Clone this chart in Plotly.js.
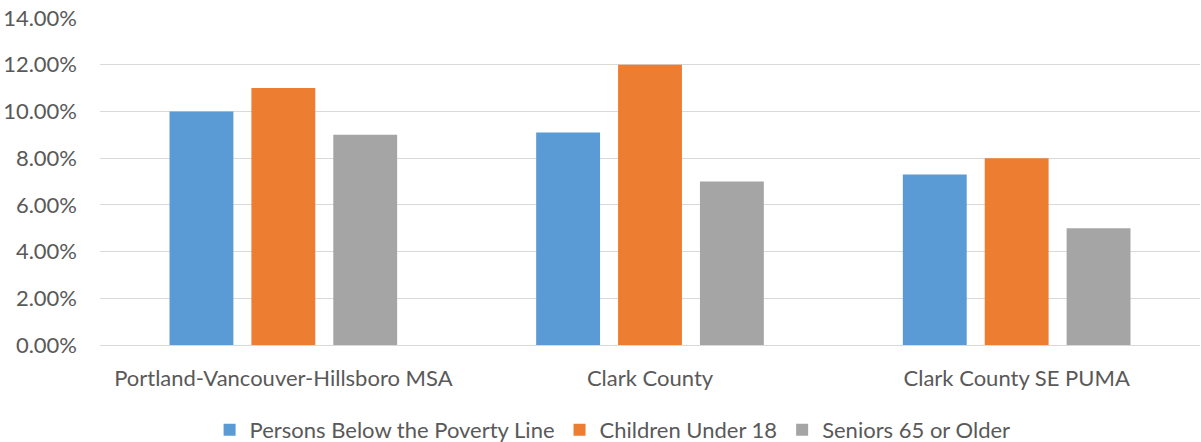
<!DOCTYPE html>
<html>
<head>
<meta charset="utf-8">
<script src="https://cdn.plot.ly/plotly-3.0.1.min.js"></script>
<style>
  html, body { margin: 0; padding: 0; background: #fff; }
  #chart { width: 1201px; height: 442px; }
</style>
</head>
<body>
<div id="chart"></div>
<script>
// Poverty rates by area (percent)
const areas = ["Portland-Vancouver-Hillsboro MSA", "Clark County", "Clark County SE PUMA"];
const personsBelowPoverty = [10.0, 9.1, 7.3];
const childrenUnder18 = [11.0, 12.0, 8.0];
const seniors65Plus = [9.0, 7.0, 5.0];
const seriesNames = ["Persons Below the Poverty Line", "Children Under 18", "Seniors 65 or Older"];
const seriesColors = ["#5B9BD5", "#ED7D31", "#A5A5A5"];
const yTicks = [0, 2, 4, 6, 8, 10, 12, 14];

const textColor = "#595959";
const fontFamily = "Lato, 'Open Sans', sans-serif";

const seriesValues = [personsBelowPoverty, childrenUnder18, seniors65Plus];
const traces = seriesValues.map((vals, i) => ({
  type: "bar",
  name: seriesNames[i],
  x: areas,
  y: vals,
  marker: { color: seriesColors[i] },
  hoverinfo: "skip"
}));

const layout = {
  width: 1201,
  height: 442,
  margin: { l: 100, r: 1, t: 18, b: 97, pad: 0, autoexpand: false },
  paper_bgcolor: "#ffffff",
  plot_bgcolor: "#ffffff",
  font: { family: fontFamily, size: 22, color: textColor },
  barmode: "group",
  bargap: 0.33,
  bargroupgap: 0.22,
  showlegend: true,
  legend: {
    orientation: "h",
    x: 0.466, xanchor: "center",
    y: -0.26, yanchor: "middle",
    font: { family: fontFamily, size: 22, color: textColor },
    itemwidth: 30,
    traceorder: "normal"
  },
  xaxis: {
    showgrid: false,
    zeroline: false,
    showline: true,
    linecolor: "#D9D9D9",
    linewidth: 1,
    ticks: "",
    ticklabelstandoff: 14,
    tickfont: { family: fontFamily, size: 22, color: textColor },
    fixedrange: true
  },
  yaxis: {
    range: [0, 14],
    tickvals: yTicks,
    ticktext: yTicks.map(v => v.toFixed(2) + "%"),
    showgrid: true,
    gridcolor: "#D9D9D9",
    gridwidth: 1,
    zeroline: false,
    showline: false,
    ticks: "",
    ticklabelstandoff: 22,
    tickfont: { family: fontFamily, size: 22, color: textColor },
    fixedrange: true
  }
};

Plotly.newPlot("chart", traces, layout, { displayModeBar: false, staticPlot: true });
</script>
</body>
</html>
